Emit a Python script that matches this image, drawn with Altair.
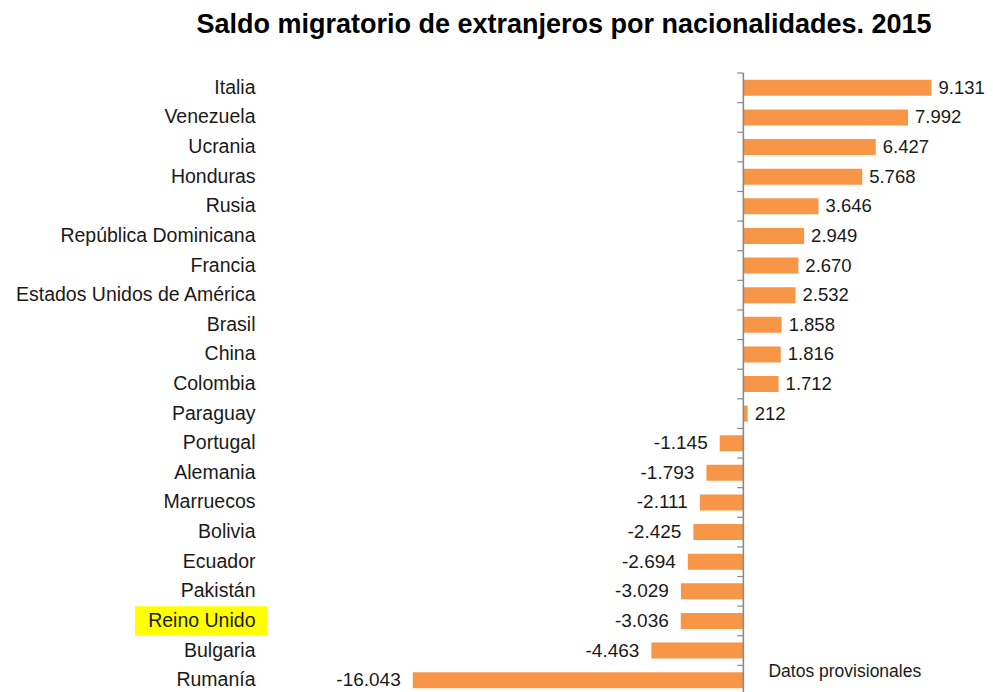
import altair as alt
import pandas as pd

paises = ["Italia", "Venezuela", "Ucrania", "Honduras", "Rusia", "República Dominicana",
          "Francia", "Estados Unidos de América", "Brasil", "China", "Colombia", "Paraguay",
          "Portugal", "Alemania", "Marruecos", "Bolivia", "Ecuador", "Pakistán",
          "Reino Unido", "Bulgaria", "Rumanía"]
saldo = [9131, 7992, 6427, 5768, 3646, 2949, 2670, 2532, 1858, 1816, 1712, 212,
         -1145, -1793, -2111, -2425, -2694, -3029, -3036, -4463, -16043]
destacado = "Reino Unido"
titulo = "Saldo migratorio de extranjeros por nacionalidades. 2015"
nota = "Datos provisionales"

df = pd.DataFrame({
    "pais": paises,
    "saldo": saldo,
    "etiqueta": [f"{v:,}".replace(",", ".") for v in saldo],
})

FONT = "Liberation Sans"
ORANGE = "#F79646"
GRAY = "#8a8a8a"
TXT = "#1a1a1a"
H = 622
STEP = H / len(paises)

xs = alt.Scale(domain=[-23360, 11000], nice=False, zero=False)
ys = alt.Scale(paddingInner=0, paddingOuter=0)

y_enc = alt.Y("pais:N", sort=paises, scale=ys,
              axis=alt.Axis(title=None, domain=False, ticks=False, labelFont=FONT,
                            labelFontSize=19.5, labelColor=TXT, labelPadding=7,
                            labelLimit=400, zindex=1))

base = alt.Chart(df)

highlight = base.transform_filter(alt.datum.pais == destacado).mark_rect(
    color="#FFFF00").encode(
    y=y_enc, x=alt.value(-127), x2=alt.value(5))

bars = base.mark_bar(color=ORANGE, size=16).encode(
    y=y_enc,
    x=alt.X("saldo:Q", scale=xs, axis=None),
)

pos = base.transform_filter(alt.datum.saldo >= 0).mark_text(
    align="left", baseline="middle", dx=7, font=FONT, fontSize=18.5, color=TXT).encode(
    y=y_enc, x=alt.X("saldo:Q", scale=xs, axis=None), text="etiqueta:N")

neg = base.transform_filter(alt.datum.saldo < 0).mark_text(
    align="right", baseline="middle", dx=-12, font=FONT, fontSize=19, color=TXT).encode(
    y=y_enc, x=alt.X("saldo:Q", scale=xs, axis=None), text="etiqueta:N")

ticks = base.transform_calculate(x0="0", x1="-300").mark_rule(
    color=GRAY, strokeWidth=1.2, yOffset=-STEP / 2).encode(
    y=y_enc,
    x=alt.X("x0:Q", scale=xs, axis=None), x2="x1:Q")

axis_line = alt.Chart(pd.DataFrame({"z": [0]})).mark_rule(
    color=GRAY, strokeWidth=1.6).encode(x=alt.X("z:Q", scale=xs, axis=None))

note = base.transform_filter(alt.datum.pais == paises[-1]).transform_calculate(
    t=f"'{nota}'", nx="1220").mark_text(
    align="left", baseline="alphabetic", dy=-3, font=FONT, fontSize=17.5, color=TXT).encode(
    x=alt.X("nx:Q", scale=xs, axis=None), y=y_enc, text="t:N")

chart = alt.layer(highlight, bars, pos, neg, ticks, axis_line, note).properties(
    width=708, height=H,
    autosize=alt.AutoSizeParams(type="none"),
    padding={"left": 254, "top": 65, "right": 15, "bottom": 0},
    title=alt.TitleParams(titulo, font=FONT, fontSize=27, fontWeight="bold",
                          color="#000000", anchor="middle", dx=-52, offset=12,
                          baseline="alphabetic"),
).configure_view(stroke=None)

chart.save("out.html", embed_options={"renderer": "svg", "actions": False})
